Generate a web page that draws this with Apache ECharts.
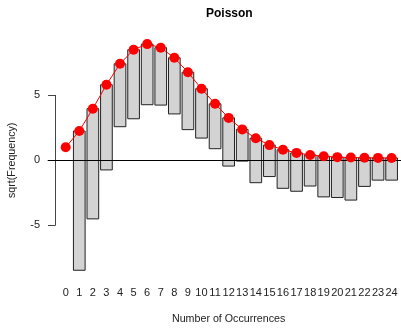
<!DOCTYPE html>
<html><head><meta charset="utf-8">
<script src="https://cdn.jsdelivr.net/npm/echarts@6/dist/echarts.min.js"></script>
<style>html,body{margin:0;padding:0;background:#fff}#c{width:401px;height:330px}</style>
</head><body><div id="c"></div>
<script>
var categories = ['0','1','2','3','4','5','6','7','8','9','10','11','12','13','14','15','16','17','18','19','20','21','22','23','24'];
var fittedSqrt = [0.85,2.12,3.87,5.74,7.38,8.48,8.92,8.64,7.85,6.72,5.43,4.25,3.15,2.25,1.56,1.02,0.66,0.41,0.25,0.15,0.08,0.05,0.03,0.02,0.01];
var barBottom = [0.85,-8.77,-4.75,-0.92,2.46,3.08,4.18,4.15,3.46,2.23,1.57,0.74,-0.62,-0.23,-1.92,-1.44,-2.36,-2.59,-2.18,-3.03,-3.08,-3.28,-2.21,-1.72,-1.72];
var yTicks = [-5, 0, 5];

var FONT = 'Liberation Sans, Arial, sans-serif';
var chart = echarts.init(document.getElementById('c'), null, {renderer:'canvas'});
var barData = categories.map(function(c,i){ return [i, fittedSqrt[i], barBottom[i]]; });

chart.setOption({
  animation:false,
  backgroundColor:'#fff',
  title:{text:'Poisson', left:206, top:8, padding:0,
    textStyle:{fontFamily:FONT, fontSize:12, fontWeight:'bold', color:'#000'}},
  grid:[
    {left:58.9, right:2.6, top:30.3, height:260},
    {left:55, top:95.3, width:10, height:130},
    {left:47.7, right:0, top:30.3, height:260}
  ],
  xAxis:[
    {type:'category', gridIndex:0, data:categories, boundaryGap:true,
     axisLine:{show:false}, axisTick:{show:false}, splitLine:{show:false},
     axisLabel:{interval:0, margin:1, fontFamily:FONT, fontSize:11, color:'#222'},
     name:'Number of Occurrences', nameLocation:'middle', nameGap:28,
     nameTextStyle:{fontFamily:FONT, fontSize:10.7, color:'#222'}},
    {type:'value', gridIndex:1, show:false},
    {type:'value', gridIndex:2, show:false, min:0, max:1}
  ],
  yAxis:[
    {type:'value', gridIndex:0, min:-10, max:10, show:false},
    {type:'value', gridIndex:1, min:yTicks[0], max:yTicks[yTicks.length-1], interval:5,
     axisLine:{show:true, lineStyle:{color:'#444', width:1}},
     axisTick:{show:true, length:7, lineStyle:{color:'#444'}},
     splitLine:{show:false},
     axisLabel:{margin:15, fontFamily:FONT, fontSize:11, color:'#222'},
     name:'sqrt(Frequency)', nameLocation:'middle', nameGap:37, nameRotate:90,
     nameTextStyle:{fontFamily:FONT, fontSize:10.7, color:'#222'}},
    {type:'value', gridIndex:2, min:-10, max:10, show:false}
  ],
  series:[
    {type:'line', xAxisIndex:2, yAxisIndex:2, data:[], silent:true,
     markLine:{silent:true, symbol:['none','none'], label:{show:false},
       lineStyle:{color:'#000', width:1, type:'solid'}, data:[{yAxis:0}]}},
    {type:'custom', xAxisIndex:0, yAxisIndex:0, data:barData,
     renderItem:function(params, api){
       var x = api.value(0), top = api.value(1), bot = api.value(2);
       if (Math.abs(top-bot) < 1e-6) return null;
       var p1 = api.coord([x, top]), p2 = api.coord([x, bot]);
       var w = api.size([1,0])[0]*0.86;
       return {type:'rect', shape:{x:p1[0]-w/2, y:Math.min(p1[1],p2[1]), width:w, height:Math.abs(p2[1]-p1[1])},
         style:{fill:'#d3d3d3', stroke:'#222', lineWidth:1}};
     }},
    {type:'line', xAxisIndex:0, yAxisIndex:0, data:fittedSqrt,
     symbol:'circle', symbolSize:10, showSymbol:true,
     lineStyle:{color:'#ff0000', width:1}, itemStyle:{color:'#ff0000'}, z:5}
  ]
});
</script></body></html>
